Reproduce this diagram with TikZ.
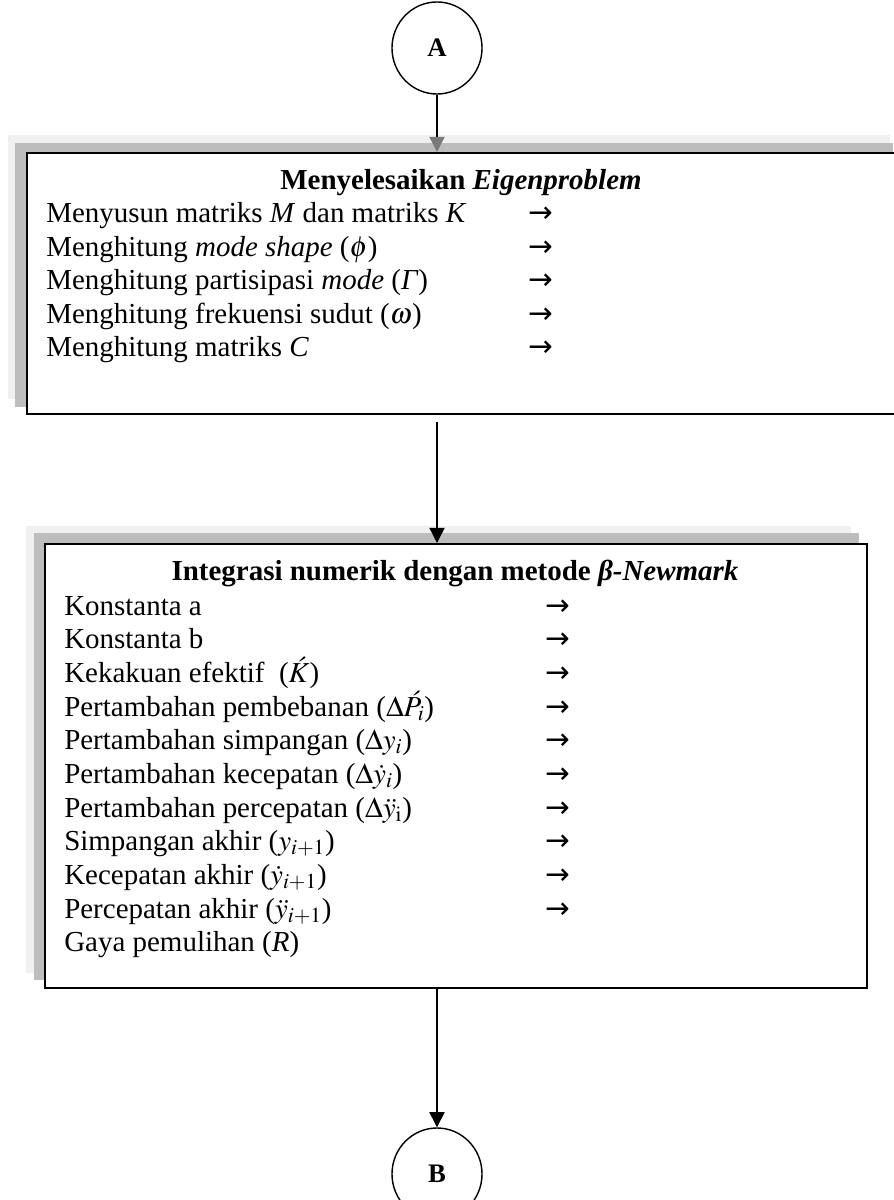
\documentclass[tikz,border=0pt]{standalone}
\usepackage{mathptmx}
\usepackage{fontspec}
\setmainfont{Liberation Serif}
\newfontfamily\arrowfont{DejaVu Sans}
\usetikzlibrary{shapes.geometric,arrows.meta}
\colorlet{lightshade}{black!6}
\colorlet{darkshade}{black!26}

\begin{document}
\begin{tikzpicture}[x=0.025cm,y=-0.025cm,
  txt/.style={anchor=base west,inner sep=0pt,font=\fontsize{20.6}{24}\selectfont},
  ttl/.style={anchor=base,inner sep=0pt,font=\fontsize{20.6}{24}\selectfont\bfseries},
  arr/.style={anchor=base,inner sep=0pt,font=\fontsize{21}{24}\selectfont\arrowfont},
  panel/.style={draw,line width=1.4pt,fill=white,anchor=north west,inner sep=0pt},
  conn/.style={draw,ellipse,line width=1pt,minimum width=2.25cm,minimum height=2.3cm,inner sep=0pt,font=\fontsize{19}{22}\selectfont\bfseries},
  link/.style={line width=1pt,-{Triangle[width=0.38cm,length=0.38cm]}}]

\useasboundingbox (0,0) rectangle (893,1200);

% connectors A and B
\node[conn] (A) at (437,48) {A};
\node[conn] (B) at (437,1174) {B};

% first panel
\fill[lightshade] (8,135) rectangle (890,399);
\fill[darkshade] (15,143) rectangle (893,407);
\node[panel,minimum width=21.7cm,minimum height=6.525cm] (eigen) at (26,152) {};

\node[ttl] (e0) at (461,190) {Menyelesaikan \textit{Eigenproblem}};
\node[txt] (e1) at (46,223) {Menyusun matriks \textit{M} dan matriks \textit{K}};
\node[txt] (e2) at (46,256.5) {Menghitung \textit{mode shape} ($\phi$)};
\node[txt] (e3) at (46,290) {Menghitung partisipasi \textit{mode} (\textit{Γ})};
\node[txt] (e4) at (46,323.5) {Menghitung frekuensi sudut ($\omega$)};
\node[txt] (e5) at (46,357) {Menghitung matriks \textit{C}};

\node[arr] (ea1) at (541,223) {→};
\node[arr] (ea2) at (541,256.5) {→};
\node[arr] (ea3) at (541,290) {→};
\node[arr] (ea4) at (541,323.5) {→};
\node[arr] (ea5) at (541,357) {→};

% second panel
\fill[lightshade] (26,526) rectangle (851,973);
\fill[darkshade] (34,533) rectangle (859,980);
\node[panel,minimum width=20.55cm,minimum height=11.1cm] (integ) at (44,543) {};

\node[ttl] (n0) at (455,580) {Integrasi numerik dengan metode \textit{β-Newmark}};
\node[txt] (n1) at (64,615) {Konstanta a};
\node[txt] (n2) at (64,648.6) {Konstanta b};
\node[txt] (n3) at (64,682) {Kekakuan efektif \ ($\acute{K}$)};
\node[txt] (n4) at (64,716) {Pertambahan pembebanan ($\Delta\acute{P}_i$)};
\node[txt] (n5) at (64,749.5) {Pertambahan simpangan ($\Delta y_i$)};
\node[txt] (n6) at (64,783) {Pertambahan kecepatan ($\Delta\dot{y}_i$)};
\node[txt] (n7) at (64,817) {Pertambahan percepatan ($\Delta\ddot{y}_{\mathrm{i}}$)};
\node[txt] (n8) at (64,850.5) {Simpangan akhir ($y_{i+1}$)};
\node[txt] (n9) at (64,884) {Kecepatan akhir ($\dot{y}_{i+1}$)};
\node[txt] (n10) at (64,918) {Percepatan akhir ($\ddot{y}_{i+1}$)};
\node[txt] (n11) at (64,951.6) {Gaya pemulihan (\textit{R})};

\node[arr] (na1) at (558,615) {→};
\node[arr] (na2) at (558,648.6) {→};
\node[arr] (na3) at (558,682) {→};
\node[arr] (na4) at (558,716) {→};
\node[arr] (na5) at (558,749.5) {→};
\node[arr] (na6) at (558,783) {→};
\node[arr] (na7) at (558,817) {→};
\node[arr] (na8) at (558,850.5) {→};
\node[arr] (na9) at (558,884) {→};
\node[arr] (na10) at (558,918) {→};

% flow
\draw[line width=1pt,-{Triangle[width=0.38cm,length=0.38cm,color=black!52]}] (A) -- (A |- eigen.north);
\draw[link] ([yshift=-0.18cm]A |- eigen.south) -- (A |- integ.north);
\draw[link] (A |- integ.south) -- (B);
\end{tikzpicture}
\end{document}
